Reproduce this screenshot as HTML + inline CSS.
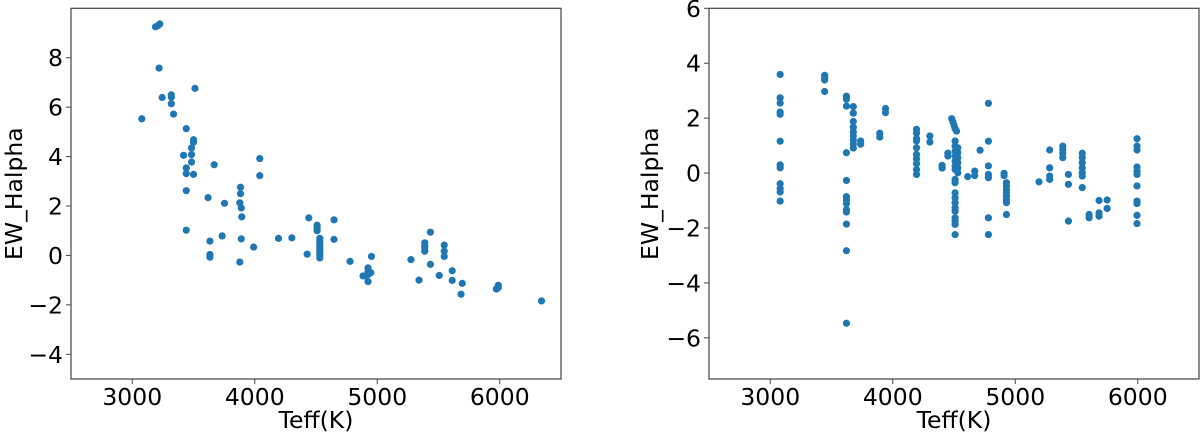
<!DOCTYPE html>
<html><head><meta charset="utf-8"><style>
html,body{margin:0;padding:0;background:#fff;}
svg{display:block;font-family:"DejaVu Sans","Liberation Sans",sans-serif;}
</style></head><body>
<svg id="fig" width="1200" height="436" viewBox="0 0 1200 436" xmlns="http://www.w3.org/2000/svg"></svg>
<script>
const xTicks=[3000,4000,5000,6000];
const leftYTicks=[-4,-2,0,2,4,6,8];
const rightYTicks=[-6,-4,-2,0,2,4,6];
const leftTeff=[3190,3210,3225,3219,3244,3319,3319,3319,3337,3078,3512,3441,3500,3500,3484,3419,3484,3484,3441,3441,3500,3669,3441,3619,3753,3884,3884,3878,3890,3894,3441,3634,3634,3634,3734,3890,3878,3991,4041,4041,4194,4303,4441,4428,4509,4509,4509,4531,4531,4531,4531,4531,4531,4531,4531,4531,4647,4647,4778,4953,4925,4925,4906,4884,4947,4925,4925,5275,5341,5388,5388,5388,5388,5434,5434,5506,5547,5547,5547,5612,5612,5694,5684,5972,5988,5988,6341];
const leftEW=[9.25,9.3,9.37,7.58,6.39,6.5,6.4,6.14,5.72,5.53,6.76,5.13,4.68,4.58,4.35,4.05,4.08,3.78,3.54,3.31,3.28,3.67,2.62,2.34,2.11,2.76,2.5,2.13,1.92,1.56,1.02,0.58,0.04,-0.07,0.79,0.67,-0.27,0.34,3.92,3.23,0.69,0.71,1.52,0.05,1.22,1.1,1.0,0.69,0.6,0.5,0.4,0.3,0.2,0.1,0,-0.1,1.44,0.65,-0.24,-0.04,-0.5,-0.63,-0.83,-0.83,-0.7,-1.06,-0.77,-0.17,-1.0,0.51,0.31,0.17,0.4,0.94,-0.36,-0.81,0.42,0.17,-0.04,-0.62,-1.01,-1.13,-1.57,-1.36,-1.21,-1.3,-1.84];
const rightTeff=[3081,3081,3081,3081,3081,3081,3081,3081,3081,3081,3081,3081,
3444,3444,3444,3444,
3622,3622,3622,3622,3622,3622,3622,3622,3622,3622,3622,3622,3622,
3678,3678,3678,3678,3678,3678,3678,3678,3678,
3738,3738,3894,3894,3941,3941,
4194,4194,4194,4194,4194,4194,4194,4194,4194,4194,
4303,4303,4403,4403,4450,4450,
4482,4491,4500,4509,4521,
4509,4509,4509,4509,4509,4509,4509,
4531,4531,4531,4531,4531,4531,
4509,4509,4509,4509,4509,4509,4509,4509,4509,4509,4509,
4612,4669,4669,4713,
4781,4781,4781,4781,4781,4781,4781,
4909,4909,4928,4928,4928,4928,4928,4928,4928,4928,
5194,5281,5281,5281,5281,5388,5388,5388,5388,5434,5434,5434,
5547,5547,5547,5547,5547,5547,5547,5603,5603,5684,5684,5684,5750,5750,
5994,5994,5994,5994,5994,5994,5994,5994,5994,5994,5994];
const rightEW=[3.59,2.74,2.55,2.22,2.14,1.16,0.30,0.19,-0.39,-0.57,-0.69,-1.02,
3.56,3.47,3.39,2.97,
2.80,2.69,2.44,0.74,-0.27,-0.86,-0.98,-1.11,-1.33,-1.42,-1.86,-2.83,-5.47,
2.42,2.18,1.88,1.67,1.50,1.35,1.20,1.06,0.91,
1.17,1.05,1.45,1.31,2.35,2.2,
1.59,1.45,1.25,1.17,0.92,0.68,0.52,0.34,0.13,-0.05,
1.35,1.13,0.28,0.18,0.72,0.62,
1.98,1.86,1.74,1.62,1.53,
1.17,0.98,0.80,0.62,0.44,0.26,0.13,
0.92,0.74,0.56,0.38,0.19,0.01,
-0.23,-0.35,-0.72,-0.9,-1.08,-1.26,-1.39,-1.63,-1.75,-1.87,-2.24,
-0.13,0.07,-0.09,0.83,
2.54,1.16,0.26,-0.05,-0.17,-1.63,-2.24,
-0.01,-0.09,-0.35,-0.47,-0.6,-0.72,-0.84,-0.96,-1.08,-1.51,
-0.32,0.84,0.19,-0.11,-0.23,0.98,0.86,0.72,0.56,-0.05,-0.41,-1.75,
0.72,0.56,0.38,0.19,0.01,-0.11,-0.53,-1.51,-1.63,-1.0,-1.45,-1.57,-0.98,-1.29,
1.25,0.98,0.84,0.22,0.07,-0.05,-0.47,-1.02,-1.11,-1.54,-1.84];

const NS="http://www.w3.org/2000/svg";
const svg=document.getElementById('fig');
function mk(tag,attrs,parent){const e=document.createElementNS(NS,tag);for(const k in attrs)e.setAttribute(k,attrs[k]);(parent||svg).appendChild(e);return e;}
function panel(id,L,R,T,B,xmin,xmax,ymin,ymax,yticks,xs,ys,ylabX){
  const g=mk('g',{});
  
  
  const sx=v=>L+(v-xmin)/(xmax-xmin)*(R-L);
  const sy=v=>B-(v-ymin)/(ymax-ymin)*(B-T);
  const pts=mk('g',{fill:'#1f77b4'},g);
  
  
  for(let i=0;i<xs.length;i++){
    const c=mk('circle',{cx:sx(xs[i]),cy:sy(ys[i]),r:3.6},pts);
    
    
  }
  const frame=mk('rect',{x:L,y:T,width:R-L,height:B-T,fill:'none',stroke:'#444','stroke-width':1.2},g);
  
  
  xTicks.forEach(t=>{
    const x=sx(t);
    mk('line',{x1:x,x2:x,y1:B,y2:B+5,stroke:'#444','stroke-width':1},g);
    const tx=mk('text',{x:x,y:B+26,'font-size':23.5,'text-anchor':'middle',fill:'#000'},g);
    tx.textContent=t;
    
    
  });
  yticks.forEach(t=>{
    const y=sy(t);
    mk('line',{x1:L-5,x2:L,y1:y,y2:y,stroke:'#444','stroke-width':1},g);
    const tx=mk('text',{x:L-8,y:y+8.5,'font-size':23.5,'text-anchor':'end',fill:'#000'},g);
    tx.textContent=t<0?'\u2212'+Math.abs(t):String(t);
    
    
  });
  const xl=mk('text',{x:(L+R)/2,y:428,'font-size':23.5,'text-anchor':'middle',fill:'#000'},g);
  xl.textContent='Teff(K)';
  
  
  const cy=(T+B)/2;
  const yl=mk('text',{x:ylabX,y:cy,'font-size':23.5,'text-anchor':'middle',fill:'#000',transform:`rotate(-90 ${ylabX} ${cy})`},g);
  yl.textContent='EW_Halpha';
  
  
}
panel('left',71,561,8.3,379,2500,6500,-5,10,leftYTicks,leftTeff,leftEW,22);
panel('right',709,1199,8.3,379,2500,6500,-7.5,6,rightYTicks,rightTeff,rightEW,658);
</script>
</body></html>
